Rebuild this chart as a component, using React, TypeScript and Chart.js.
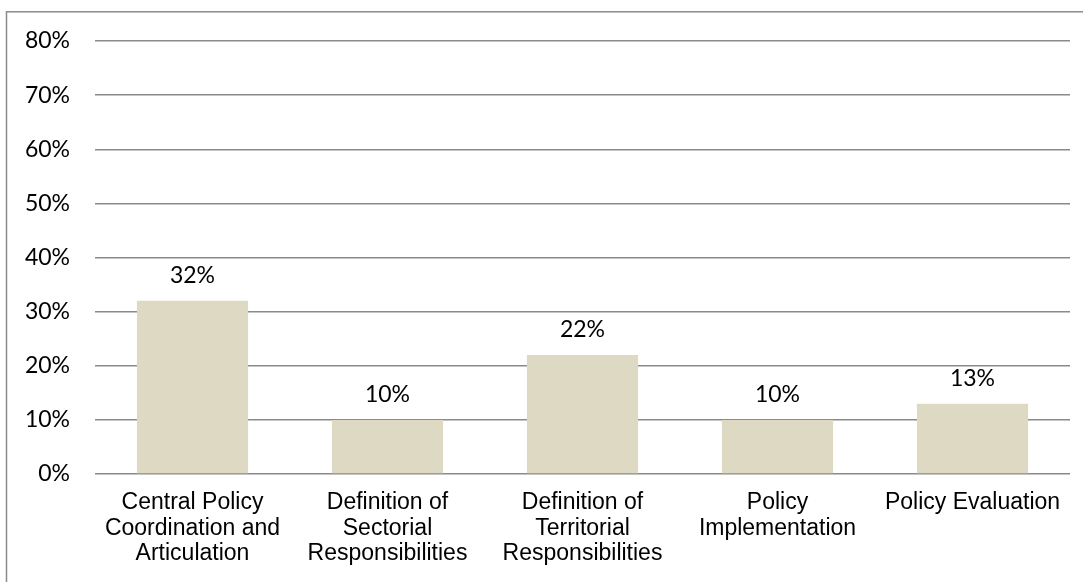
import React, { useEffect, useRef } from "react";
import { Chart, registerables } from "chart.js";

Chart.register(...registerables);

const categories: string[][] = [
  ["Central Policy", "Coordination and", "Articulation"],
  ["Definition of", "Sectorial", "Responsibilities"],
  ["Definition of", "Territorial", "Responsibilities"],
  ["Policy", "Implementation"],
  ["Policy Evaluation"],
];
const values: number[] = [32, 10, 22, 10, 13];
const yMin = 0;
const yMax = 80;
const yStep = 10;

const framePlugin = {
  id: "frame",
  beforeDraw(chart: any) {
    const ctx = chart.ctx;
    ctx.save();
    ctx.strokeStyle = "#8c8c8c";
    ctx.lineWidth = 1.5;
    ctx.strokeRect(6.5, 11.8, 1400, 1000);
    ctx.restore();
  },
};

const labelPlugin = {
  id: "barLabels",
  afterDatasetsDraw(chart: any) {
    const ctx = chart.ctx;
    const meta = chart.getDatasetMeta(0);
    ctx.save();
    ctx.font = "23px Lato";
    ctx.fillStyle = "#000";
    ctx.textAlign = "center";
    ctx.textBaseline = "middle";
    meta.data.forEach((bar: any, i: number) => {
      ctx.fillText(values[i] + "%", bar.x, bar.y - 25);
    });
    ctx.restore();
  },
};

export default function App() {
  const ref = useRef<HTMLCanvasElement | null>(null);
  useEffect(() => {
    document.body.style.margin = "0";
    const chart = new Chart(ref.current as HTMLCanvasElement, {
      type: "bar",
      data: {
        labels: categories,
        datasets: [
          {
            data: values,
            backgroundColor: "#DDD9C3",
            borderWidth: 0,
            categoryPercentage: 1,
            barPercentage: 0.57,
          },
        ],
      },
      plugins: [framePlugin, labelPlugin],
      options: {
        animation: false,
        responsive: false,
        maintainAspectRatio: false,
        layout: { padding: { top: 41, right: 13, bottom: 0, left: 0 } },
        plugins: { legend: { display: false }, tooltip: { enabled: false } },
        scales: {
          x: {
            grid: { display: false, drawTicks: false },
            border: { display: false },
            ticks: {
              color: "#000",
              padding: 16,
              maxRotation: 0,
              autoSkip: false,
              font: { family: "'Liberation Sans', Arial", size: 23, lineHeight: 1.11 },
            },
            afterFit: (s: any) => {
              s.height = 108;
            },
          },
          y: {
            min: yMin,
            max: yMax,
            grid: { color: "#8a8a8a", lineWidth: 1.5, drawTicks: false },
            border: { display: false },
            ticks: {
              stepSize: yStep,
              color: "#000",
              padding: 25,
              font: { family: "Lato", size: 23 },
              callback: (v: any) => v + "%",
            },
            afterFit: (s: any) => {
              s.width = 95;
            },
          },
        },
      },
    });
    return () => chart.destroy();
  }, []);
  return (
    <div style={{ position: "fixed", left: 0, top: 0, width: 1083, height: 582, background: "#fff" }}>
      <canvas ref={ref} width={1083} height={582} style={{ width: 1083, height: 582 }} />
    </div>
  );
}
